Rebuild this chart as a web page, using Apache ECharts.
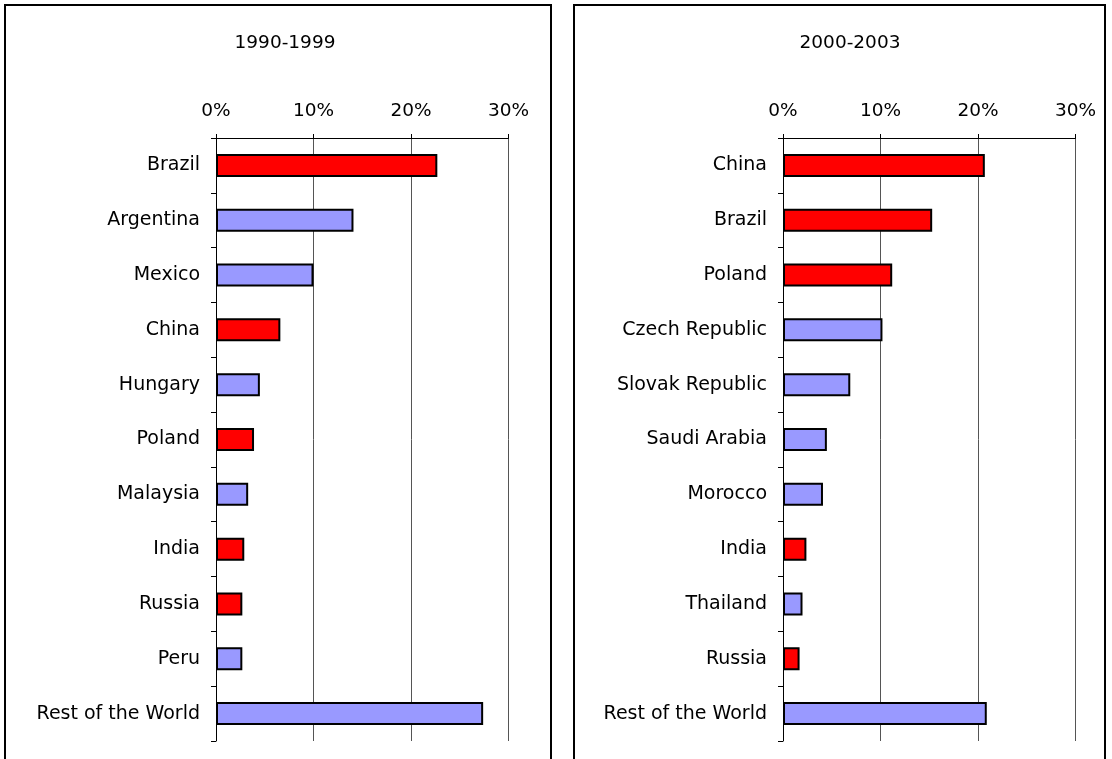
<!DOCTYPE html>
<html>
<head>
<meta charset="utf-8">
<script src="https://cdn.jsdelivr.net/npm/echarts@6/dist/echarts.min.js"></script>
<style>
  html, body { margin: 0; padding: 0; background: #fff; }
  #chart { width: 1112px; height: 759px; }
</style>
</head>
<body>
<div id="chart"></div>
<script>
// ---- Data ----
const leftTitle = '1990-1999';
const rightTitle = '2000-2003';
const leftCategories = ['Brazil', 'Argentina', 'Mexico', 'China', 'Hungary', 'Poland', 'Malaysia', 'India', 'Russia', 'Peru', 'Rest of the World'];
const leftValues = [22.7, 14.1, 10.0, 6.6, 4.5, 3.9, 3.3, 2.9, 2.7, 2.7, 27.4];
const rightCategories = ['China', 'Brazil', 'Poland', 'Czech Republic', 'Slovak Republic', 'Saudi Arabia', 'Morocco', 'India', 'Thailand', 'Russia', 'Rest of the World'];
const rightValues = [20.7, 15.3, 11.2, 10.2, 6.9, 4.5, 4.1, 2.4, 2.0, 1.7, 20.9];
const highlighted = ['Brazil', 'China', 'Poland', 'India', 'Russia'];
const xTicks = [0, 10, 20, 30];

const RED = '#FF0000';
const BLUE = '#9999FF';
const FONT = 'DejaVu Sans';

function seriesData(cats, vals) {
  return vals.map((v, i) => ({
    value: v,
    itemStyle: { color: highlighted.includes(cats[i]) ? RED : BLUE }
  }));
}

function xAxis(gridIndex) {
  return {
    type: 'value', gridIndex, position: 'top',
    min: xTicks[0], max: xTicks[xTicks.length - 1], interval: 10,
    axisLine: { show: true, lineStyle: { color: '#000', width: 1 } },
    axisTick: { show: true, inside: false, length: 4, lineStyle: { color: '#000' } },
    axisLabel: { formatter: '{value}%', color: '#000', fontFamily: FONT, fontSize: 18.5, margin: 17 },
    splitLine: { show: true, lineStyle: { color: '#555', width: 1 } }
  };
}
function yAxis(gridIndex, cats) {
  return {
    type: 'category', gridIndex, data: cats, inverse: true,
    axisLine: { show: true, lineStyle: { color: '#000', width: 1 } },
    axisTick: { show: true, inside: false, length: 5, alignWithLabel: false, lineStyle: { color: '#000' } },
    axisLabel: { color: '#000', fontFamily: FONT, fontSize: 19, margin: 16 },
    splitLine: { show: false }
  };
}

const chart = echarts.init(document.getElementById('chart'), null, { renderer: 'canvas' });
chart.setOption({
  backgroundColor: '#fff',
  animation: false,
  graphic: [
    { type: 'rect', shape: { x: 5, y: 5, width: 546, height: 800 }, style: { fill: 'none', stroke: '#000', lineWidth: 2 } },
    { type: 'rect', shape: { x: 574, y: 5, width: 531, height: 800 }, style: { fill: 'none', stroke: '#000', lineWidth: 2 } }
  ],
  title: [
    { text: leftTitle, left: 280, top: 29, textAlign: 'center', textStyle: { fontFamily: FONT, fontSize: 18.5, fontWeight: 'normal', color: '#000' } },
    { text: rightTitle, left: 845, top: 29, textAlign: 'center', textStyle: { fontFamily: FONT, fontSize: 18.5, fontWeight: 'normal', color: '#000' } }
  ],
  grid: [
    { left: 216, top: 138, width: 292.5, height: 603 },
    { left: 783, top: 138, width: 292.5, height: 603 }
  ],
  xAxis: [xAxis(0), xAxis(1)],
  yAxis: [yAxis(0, leftCategories), yAxis(1, rightCategories)],
  series: [
    { type: 'bar', xAxisIndex: 0, yAxisIndex: 0, data: seriesData(leftCategories, leftValues), barWidth: 23,
      itemStyle: { borderColor: '#000', borderWidth: 2 } },
    { type: 'bar', xAxisIndex: 1, yAxisIndex: 1, data: seriesData(rightCategories, rightValues), barWidth: 23,
      itemStyle: { borderColor: '#000', borderWidth: 2 } }
  ]
});
</script>
</body>
</html>
